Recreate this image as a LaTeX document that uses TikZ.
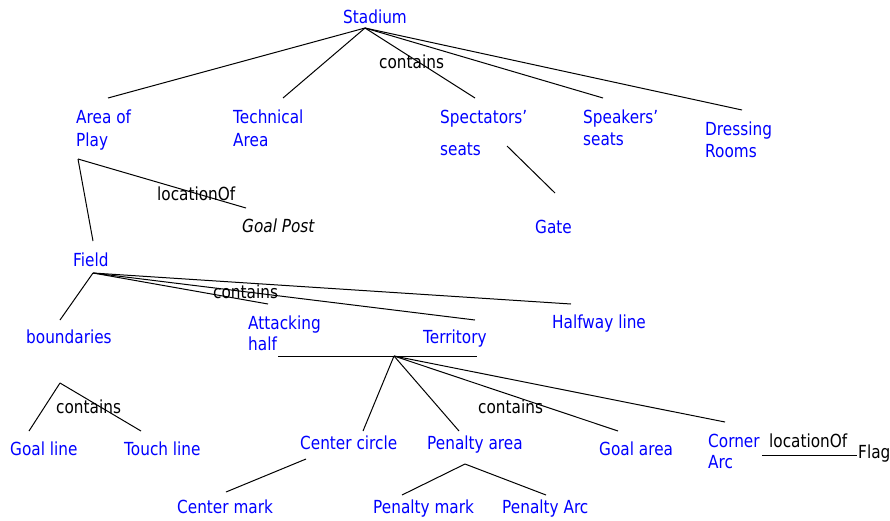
\documentclass[tikz,border=0pt]{standalone}
\usepackage{fontspec}
\setmainfont{DejaVu Sans}[FakeStretch=0.85]
\newcommand\mlines[1]{\begin{tabular}[t]{@{}l@{}}#1\end{tabular}}
\tikzset{
  lbl/.style={font=\fontsize{18}{22}\selectfont, inner sep=0pt, anchor=base west},
  concept/.style={lbl, text=blue},
  rel/.style={lbl, text=black},
  link/.style={draw=black, line width=1pt},
}
\begin{document}
\begin{tikzpicture}[x=1pt,y=-1pt]
\useasboundingbox (0,0) rectangle (890,520);
% concepts
\node[concept] (stadium) at (343,23) {Stadium};
\node[concept] (area) at (76,123) {\mlines{Area of\\[1pt]Play}};
\node[concept] (technical) at (233,123) {\mlines{Technical\\[1pt]Area}};
\node[concept] (spect) at (440,123) {\mlines{Spectators’\\[10pt]seats}};
\node[concept] (speakers) at (583,123) {\mlines{Speakers’\\seats}};
\node[concept] (dressing) at (705,135) {\mlines{Dressing\\Rooms}};
\node[lbl, font=\fontsize{18}{22}\selectfont\itshape] (goalpost) at (242,232) {Goal Post};
\node[concept] (gate) at (535,233) {Gate};
\node[concept] (field) at (73,266) {Field};
\node[concept] (bound) at (26,343) {boundaries};
\node[concept] (attack) at (248,329) {\mlines{Attacking\\[-1pt]half}};
\node[concept] (territory) at (423,343) {Territory};
\node[concept] (halfway) at (552,328) {Halfway line};
\node[concept] (goalline) at (10,455) {Goal line};
\node[concept] (touchline) at (124,455) {Touch line};
\node[concept] (ccircle) at (300,449) {Center circle};
\node[concept] (parea) at (427,449) {Penalty area};
\node[concept] (garea) at (599,455) {Goal area};
\node[concept] (corner) at (708,447) {\mlines{Corner\\[-1pt]Arc}};
\node[rel] (flag) at (858,458) {Flag};
\node[concept] (cmark) at (177,513) {Center mark};
\node[concept] (pmark) at (373,513) {Penalty mark};
\node[concept] (parc) at (502,513) {Penalty Arc};
% relation labels
\node[rel] (rel1) at (379,68) {contains};
\node[rel] (loc1) at (157,200) {locationOf};
\node[rel] (rel2) at (213,298) {contains};
\node[rel] (rel3) at (56,413) {contains};
\node[rel] (rel4) at (478,413) {contains};
\node[rel] (loc2) at (769,447) {locationOf};
% connector points
\coordinate (stadium-hub) at (365,28);
\coordinate (area-in) at (108,98);
\coordinate (technical-in) at (283,98);
\coordinate (spect-in) at (475,98);
\coordinate (speakers-in) at (603,98);
\coordinate (dressing-in) at (742,110);
\coordinate (area-hub) at (78,159);
\coordinate (field-in) at (93,241);
\coordinate (goalpost-in) at (246,208);
\coordinate (spect-out) at (507,146);
\coordinate (gate-in) at (555,193);
\coordinate (field-hub) at (93,273);
\coordinate (bound-in) at (60,320);
\coordinate (attack-in) at (268,304);
\coordinate (territory-in) at (475,320);
\coordinate (halfway-in) at (571,304);
\coordinate (terr-left) at (278,356);
\coordinate (terr-right) at (477,356);
\coordinate (terr-hub) at (394,356);
\coordinate (ccircle-in) at (363,431);
\coordinate (parea-in) at (459,431);
\coordinate (garea-in) at (618,431);
\coordinate (corner-in) at (725,422);
\coordinate (bound-hub) at (60,383);
\coordinate (goalline-in) at (29,431);
\coordinate (touchline-in) at (141,431);
\coordinate (ccircle-out) at (306,459);
\coordinate (cmark-in) at (226,492);
\coordinate (parea-hub) at (465,464);
\coordinate (pmark-in) at (402,495);
\coordinate (parc-in) at (546,495);
\coordinate (corner-out) at (762,455);
\coordinate (flag-in) at (857,455);
% connectors
\foreach \t in {area,technical,spect,speakers,dressing}
  \draw[link] (stadium-hub) -- (\t-in);
\draw[link] (area-hub) -- (field-in);
\draw[link] (area-hub) -- (goalpost-in);
\draw[link] (spect-out) -- (gate-in);
\foreach \t in {bound,attack,territory,halfway}
  \draw[link] (field-hub) -- (\t-in);
\draw[link] (terr-left) -- (terr-right);
\foreach \t in {ccircle,parea,garea,corner}
  \draw[link] (terr-hub) -- (\t-in);
\draw[link] (bound-hub) -- (goalline-in);
\draw[link] (bound-hub) -- (touchline-in);
\draw[link] (ccircle-out) -- (cmark-in);
\draw[link] (parea-hub) -- (pmark-in);
\draw[link] (parea-hub) -- (parc-in);
\draw[link] (corner-out) -- (flag-in);
\end{tikzpicture}
\end{document}
